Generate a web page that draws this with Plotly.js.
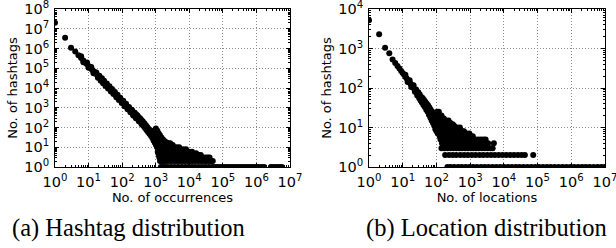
<!DOCTYPE html>
<html>
<head>
<meta charset="utf-8">
<script src="https://cdn.plot.ly/plotly-3.0.1.min.js"></script>
<style>html,body{margin:0;padding:0;background:#fff;}#chart{width:616px;height:248px;}</style>
</head>
<body>
<div id="chart"></div>
<script>
// ---------- Data ----------
// (a) Hashtag distribution: number of hashtags vs number of occurrences
const hashBandX = [1,2,3,4,5,6,7,8,9,10,11,12,13,14,15,16,18,20,22,24,26,28,30,33,36,40,44,48,53,58,64,70,77,85,94,103,113,125,138,152,167,184,203,224,247,272,300,330,364,401,442,487,537,592,652,718,791,872,961];
const hashBandY = [2.0e7,3.5e6,1.1e6,7.0e5,4.6e5,3.3e5,2.5e5,1.9e5,1.6e5,1.3e5,1.1e5,9.3e4,8.2e4,7.0e4,6.4e4,5.5e4,4.6e4,3.7e4,3.1e4,2.7e4,2.35e4,2.0e4,1.8e4,1.5e4,1.3e4,1.08e4,9.0e3,7.8e3,6.4e3,5.6e3,4.6e3,3.9e3,3.3e3,2.75e3,2.3e3,1.95e3,1.65e3,1.4e3,1.15e3,960,820,690,575,485,400,340,290,240,200,170,140,120,100,84,70,60,50,42,35];
const hashEdgeX = [6,7,9,10,12,14,17,19,21,23,25,27,29,32,35,38,42,46,50,55,61,67,73,80,88,97,108,119,131,145,160,176,193,213,235,258,285,315,345,380];
const hashEdgeY = [4.0e5,2.0e5,1.95e5,1.05e5,1.15e5,5.6e4,6.1e4,3.3e4,4.2e4,2.3e4,3.1e4,1.75e4,2.35e4,1.28e4,1.7e4,9.5e3,1.22e4,6.7e3,8.9e3,4.9e3,6.3e3,3.4e3,4.5e3,2.45e3,3.2e3,1.75e3,2.25e3,1.2e3,1.6e3,840,1100,590,790,410,560,290,400,205,285,145];
const hashScatterX = [200,210,230,240,260,270,290,310,330,350,370,390,410,430,460,480,510,530,560,590,620,650,680,720,750,790,820,860,880,900,920,940,980,1000,1020,1050,1060,1100,1150,1010,1120,1230,1340,1480,1640,1820,2050];
const hashScatterY = [700,480,560,380,470,300,380,240,300,190,250,150,205,120,165,95,130,75,105,60,85,48,70,38,58,30,48,22,60,40,72,17,32,55,13,48,26,10,20,90,68,50,40,31,25,21,18];
const hashTailLevels = [30,25,20,16,13,10,8,6,5,4,3,2,1];
const hashTailX = [
  [948,1150],
  [1003,1082,1260],
  [1047,1152,1253,1420],
  [1102,1218,1352,1498,1720,2050,2400,2700],
  [1183,1304,1447,1652,1803,2150,2600,3200],
  [1121,1252,1403,1598,1851,2104,2497,2950,3500,4200,5000],
  [1203,1348,1552,1797,2102,2398,2803,3196,3700,4400,5300,6500,8000],
  [1148,1302,1503,1748,2003,2297,2702,3104,3598,4203,4900,5800,6900,8200,9800,12000],
  [1198,1449,1702,1998,2403,2897,3502,4098,4803,5602,6497,7600,9000,10800,13200,16000],
  [1238,1402,1648,1951,2298,2703,3198,3802,4497,5303,6198,7302,8597,10020,11480,13600,16100,19000,22000],
  [1282,1448,1603,1897,2252,2648,3102,3697,4402,5198,6103,7198,8502,10030,11970,14020,16480,19530,22980,27040,31500,36000,40200],
  [1343,1502,1698,1852,2198,2603,3097,3702,4398,5203,6197,7403,8797,10520,12480,15030,17980,21470,25530,29980,35040,40970,45500,50100],
  [1421,1652,1903,2297,2902,3697,4703,5998,7602,9597,12030,14980,19020,23970,30040,37980,47960,58040,69120,83050,100200,120300,145100,174800,210300,254900,309800,371200,449600,541300,652100,789600,951200,1148000,1402000,1698000,2695000,3302000,3998000,4803000,5702000]
];

// (b) Location distribution: number of hashtags vs number of locations
const locBandX = [1,2,3,4,5,6,7,8,9,10,11,12,13,14,15,16,17,18,19,20,22,24,26,28,30,33,36,40,44,48,53,58,64,70,77,85,94,103,113];
const locBandY = [5200,2300,1050,760,530,430,360,310,270,240,215,192,176,160,150,138,128,121,113,106,94,84,76,69,63,56,50,45,40,35,31,27,24,21,18,16,14,12,10];
const locEdgeX = [12,14,16,18,21,23,25,27,29,31,32,34,35,37,39,41,43,45,47,50,52,55,57,60,62,66,68,72,75,79,82,86,89,93,97,101,105,110,115,120,126,130,135,145,150];
const locEdgeY = [215,142,156,106,118,80,92,65,78,55,68,48,60,43,56,37,50,33,45,28,40,25,36,21,32,18,28,15,25,13,22,11,20,9,17,8,15,7,13,11,6,12,9,8,10];
const locTailLevels = [25,20,17,15,13,12,11,10,9,8,7,6,5,4,3,2,1];
const locTailX = [
  [105,118],
  [100,112,128,141],
  [108,123,152,166],
  [114,136,158,192,228],
  [126,147,176,212,262],
  [139,171,203,248,305],
  [151,186,226,283,334],
  [131,162,198,243,291,352,418,497],
  [143,178,222,268,331,402,483],
  [122,156,191,232,279,343,412,503,596,655],
  [136,172,211,258,321,392,468,563,684,803,947],
  [127,152,189,241,298,372,452,538,652,783,905,1048,1196],
  [132,166,207,252,311,383,461,562,683,824,1003,1204,1452,1748,2096,2503,2880],
  [146,181,219,272,333,402,489,603,728,884,1052,1296,1553,1902,2304,2796,3398,5050],
  [141,172,213,259,318,391,473,572,703,852,1034,1251,1497,1806,2203,2698,3305,3998,4650],
  [181,236,302,388,511,662,858,1123,1447,1903,2451,3197,4153,5402,6996,9105,11820,15380,19970,26040,33480,42100,74200],
  [212,262,338,441,563,731,948,1232,1598,2104,2702,3496,4612,5987,7803,10190,13310,17280,22530,29040,38110,49870,65230,84900,110300,145200,189600,245100,320400,419800,551200,718300,941000,1221000,1603000,2098000,2702000,3497000,4598000,6012000,7795000,9810000]
];

// Ticks
const xTickVals = [1,10,100,1e3,1e4,1e5,1e6,1e7];
const xTickText = ['10<sup>0</sup>','10<sup>1</sup>','10<sup>2</sup>','10<sup>3</sup>','10<sup>4</sup>','10<sup>5</sup>','10<sup>6</sup>','10<sup>7</sup>'];
const hashYTickVals = [1,10,100,1e3,1e4,1e5,1e6,1e7,1e8];
const hashYTickText = ['10<sup>0</sup>','10<sup>1</sup>','10<sup>2</sup>','10<sup>3</sup>','10<sup>4</sup>','10<sup>5</sup>','10<sup>6</sup>','10<sup>7</sup>','10<sup>8</sup>'];
const locYTickVals = [1,10,100,1e3,1e4];
const locYTickText = ['10<sup>0</sup>','10<sup>1</sup>','10<sup>2</sup>','10<sup>3</sup>','10<sup>4</sup>'];

const captions = ['(a) Hashtag distribution', '(b) Location distribution'];

// ---------- Build ----------
function collect(parts, levels, rows) {
  const x = [], y = [];
  parts.forEach(p => { p[0].forEach((v, i) => { x.push(v); y.push(p[1][i]); }); });
  levels.forEach((lv, i) => { rows[i].forEach(v => { x.push(v); y.push(lv); }); });
  return {x, y};
}
const hash = collect([[hashBandX, hashBandY],[hashEdgeX, hashEdgeY],[hashScatterX, hashScatterY]], hashTailLevels, hashTailX);
const loc = collect([[locBandX, locBandY],[locEdgeX, locEdgeY]], locTailLevels, locTailX);

function minorVals(nDec) {
  const v = [];
  for (let e = 0; e < nDec; e++) for (let m = 2; m <= 9; m++) v.push(m * Math.pow(10, e));
  return v;
}

const marker = {color: '#000', size: 6, line: {width: 0}};
const traces = [
  {x: hash.x, y: hash.y, type: 'scatter', mode: 'markers', marker, xaxis: 'x', yaxis: 'y', hoverinfo: 'x+y'},
  {x: loc.x, y: loc.y, type: 'scatter', mode: 'markers', marker, xaxis: 'x2', yaxis: 'y2', hoverinfo: 'x+y'}
];

const tickFont = {family: 'DejaVu Sans', size: 14.5, color: '#000'};
const titleFont = {family: 'DejaVu Sans', size: 13, color: '#000'};
function ax(domain, range, vals, text, title, anchor, nDec, standoff) {
  return {
    type: 'log', domain, range, anchor,
    tickmode: 'array', tickvals: vals, ticktext: text,
    ticks: 'inside', ticklen: 4, tickwidth: 1, tickcolor: '#000',
    showline: true, linecolor: '#000', linewidth: 1, mirror: 'allticks',
    showgrid: true, gridcolor: '#8a8a8a', gridwidth: 1, griddash: '1px,2px',
    zeroline: false, tickfont: tickFont, automargin: false,
    ticklabeloverflow: 'allow', ticklabelstandoff: 2,
    minor: {ticks: 'inside', ticklen: 2, tickwidth: 1, tickcolor: '#000', showgrid: false, tickmode: 'array', tickvals: minorVals(nDec)},
    title: {text: title, font: titleFont, standoff}
  };
}

const W = 616, H = 248;
const layout = {
  width: W, height: H,
  margin: {l: 0, r: 0, t: 0, b: 0},
  paper_bgcolor: '#fff', plot_bgcolor: '#fff',
  showlegend: false,
  xaxis: ax([55/W, 290/W], [0, 7], xTickVals, xTickText, 'No. of occurrences', 'y', 7, 3),
  yaxis: ax([(H-167)/H, (H-9)/H], [0, 8], hashYTickVals, hashYTickText, 'No. of hashtags', 'x', 8, 3),
  xaxis2: ax([369/W, 605/W], [0, 7], xTickVals, xTickText, 'No. of locations', 'y2', 7, 3),
  yaxis2: ax([(H-167)/H, (H-9)/H], [0, 4], locYTickVals, locYTickText, 'No. of hashtags', 'x2', 4, 3),
  annotations: [
    {text: captions[0], xref: 'paper', yref: 'paper', x: 128/W, y: (H-228)/H, xanchor: 'center', yanchor: 'middle', showarrow: false, font: {family: 'Liberation Serif', size: 24.5, color: '#000'}},
    {text: captions[1], xref: 'paper', yref: 'paper', x: 486/W, y: (H-228)/H, xanchor: 'center', yanchor: 'middle', showarrow: false, font: {family: 'Liberation Serif', size: 24.5, color: '#000'}}
  ]
};

Plotly.newPlot('chart', traces, layout, {staticPlot: true, displayModeBar: false});
</script>
</body>
</html>
